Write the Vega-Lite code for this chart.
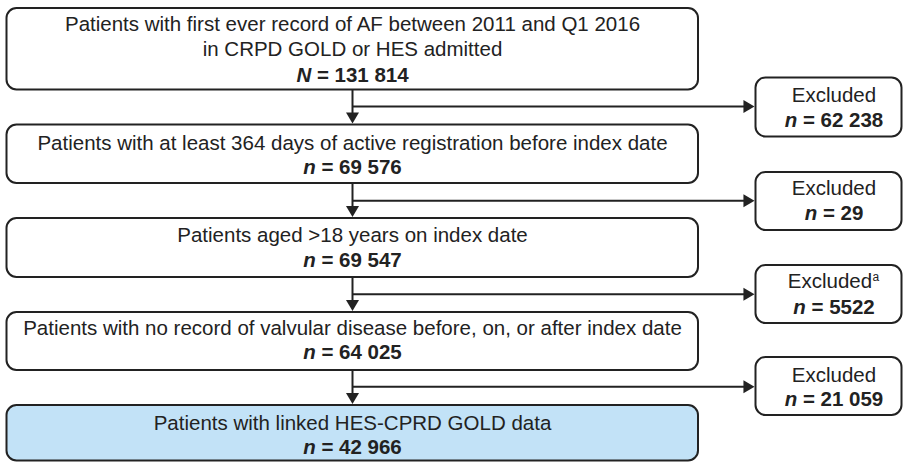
{
  "$schema": "https://vega.github.io/schema/vega-lite/v6.json",
  "width": 904,
  "height": 462,
  "padding": 0,
  "autosize": {"type": "fit", "contains": "padding"},
  "background": "white",
  "config": {"view": {"stroke": null}, "font": "Liberation Sans"},
  "datasets": {
    "boxes": [
      {"x1": 6.5, "x2": 698, "y1": 8, "y2": 89.5, "kind": "step"},
      {"x1": 6.5, "x2": 698, "y1": 124.5, "y2": 183, "kind": "step"},
      {"x1": 6.5, "x2": 698, "y1": 218, "y2": 277, "kind": "step"},
      {"x1": 6.5, "x2": 698, "y1": 312, "y2": 370, "kind": "step"},
      {"x1": 6.5, "x2": 698, "y1": 405, "y2": 460.5, "kind": "final"},
      {"x1": 755.5, "x2": 901.5, "y1": 77.5, "y2": 136.5, "kind": "excluded"},
      {"x1": 755.5, "x2": 901.5, "y1": 172, "y2": 230, "kind": "excluded"},
      {"x1": 755.5, "x2": 901.5, "y1": 265, "y2": 323, "kind": "excluded"},
      {"x1": 755.5, "x2": 901.5, "y1": 357, "y2": 415, "kind": "excluded"}
    ],
    "links": [
      {"x1": 352.5, "y1": 89.5, "x2": 352.5, "y2": 120},
      {"x1": 352.5, "y1": 106.5, "x2": 750, "y2": 106.5},
      {"x1": 352.5, "y1": 183, "x2": 352.5, "y2": 214},
      {"x1": 352.5, "y1": 200.7, "x2": 750, "y2": 200.7},
      {"x1": 352.5, "y1": 277, "x2": 352.5, "y2": 308},
      {"x1": 352.5, "y1": 294.3, "x2": 750, "y2": 294.3},
      {"x1": 352.5, "y1": 370, "x2": 352.5, "y2": 401},
      {"x1": 352.5, "y1": 386.7, "x2": 750, "y2": 386.7}
    ],
    "downHeads": [
      {"x": 352.5, "y": 123.5},
      {"x": 352.5, "y": 217},
      {"x": 352.5, "y": 311},
      {"x": 352.5, "y": 404}
    ],
    "rightHeads": [
      {"x": 754.5, "y": 106.5},
      {"x": 754.5, "y": 200.7},
      {"x": 754.5, "y": 294.3},
      {"x": 754.5, "y": 386.7}
    ],
    "labels": [
      {"x": 352.5, "y": 30.7, "text": "Patients with first ever record of AF between 2011 and Q1 2016"},
      {"x": 352.5, "y": 56, "text": "in CRPD GOLD or HES admitted"},
      {"x": 352.5, "y": 150, "text": "Patients with at least 364 days of active registration before index date"},
      {"x": 352.5, "y": 241.7, "text": "Patients aged >18 years on index date"},
      {"x": 352.5, "y": 335, "text": "Patients with no record of valvular disease before, on, or after index date"},
      {"x": 352.5, "y": 430, "text": "Patients with linked HES-CPRD GOLD data"},
      {"x": 834, "y": 101.7, "text": "Excluded"},
      {"x": 834, "y": 195, "text": "Excluded"},
      {"x": 830, "y": 288.3, "text": "Excluded"},
      {"x": 834, "y": 381.7, "text": "Excluded"}
    ],
    "notes": [
      {"x": 872.5, "y": 281, "text": "a"}
    ],
    "counts": [
      {"x": 311.2, "y": 81.5, "sym": "N", "value": "= 131 814"},
      {"x": 315.7, "y": 173.5, "sym": "n", "value": "= 69 576"},
      {"x": 315.7, "y": 266.7, "sym": "n", "value": "= 69 547"},
      {"x": 315.7, "y": 359.3, "sym": "n", "value": "= 64 025"},
      {"x": 315.7, "y": 453.5, "sym": "n", "value": "= 42 966"},
      {"x": 797.2, "y": 126.7, "sym": "n", "value": "= 62 238"},
      {"x": 817.2, "y": 220, "sym": "n", "value": "= 29"},
      {"x": 805.8, "y": 314, "sym": "n", "value": "= 5522"},
      {"x": 797.2, "y": 406, "sym": "n", "value": "= 21 059"}
    ]
  },
  "layer": [
    {
      "data": {"name": "boxes"},
      "mark": {"type": "rect", "cornerRadius": 10, "stroke": "#222222", "strokeWidth": 2},
      "encoding": {
        "x": {"field": "x1", "type": "quantitative", "scale": {"domain": [0, 904], "nice": false, "zero": false}, "axis": null},
        "x2": {"field": "x2"},
        "y": {"field": "y1", "type": "quantitative", "scale": {"domain": [0, 462], "nice": false, "zero": false, "reverse": true}, "axis": null},
        "y2": {"field": "y2"},
        "fill": {"field": "kind", "type": "nominal", "scale": {"domain": ["step", "final", "excluded"], "range": ["#ffffff", "#c2e2f7", "#ffffff"]}, "legend": null}
      }
    },
    {
      "data": {"name": "links"},
      "mark": {"type": "rule", "color": "#222222", "strokeWidth": 2},
      "encoding": {
        "x": {"field": "x1", "type": "quantitative"},
        "x2": {"field": "x2"},
        "y": {"field": "y1", "type": "quantitative"},
        "y2": {"field": "y2"}
      }
    },
    {
      "data": {"name": "downHeads"},
      "mark": {"type": "point", "filled": true, "color": "#222222", "opacity": 1, "size": 169, "shape": "M-1,-1.7L1,-1.7L0,0Z"},
      "encoding": {
        "x": {"field": "x", "type": "quantitative"},
        "y": {"field": "y", "type": "quantitative"}
      }
    },
    {
      "data": {"name": "rightHeads"},
      "mark": {"type": "point", "filled": true, "color": "#222222", "opacity": 1, "size": 169, "shape": "M-1.7,-1L-1.7,1L0,0Z"},
      "encoding": {
        "x": {"field": "x", "type": "quantitative"},
        "y": {"field": "y", "type": "quantitative"}
      }
    },
    {
      "data": {"name": "labels"},
      "mark": {"type": "text", "align": "center", "baseline": "alphabetic", "fontSize": 20.5, "color": "#222222", "font": "Liberation Sans"},
      "encoding": {
        "x": {"field": "x", "type": "quantitative"},
        "y": {"field": "y", "type": "quantitative"},
        "text": {"field": "text"}
      }
    },
    {
      "data": {"name": "notes"},
      "mark": {"type": "text", "align": "left", "baseline": "alphabetic", "fontSize": 12, "color": "#222222", "font": "Liberation Sans"},
      "encoding": {
        "x": {"field": "x", "type": "quantitative"},
        "y": {"field": "y", "type": "quantitative"},
        "text": {"field": "text"}
      }
    },
    {
      "data": {"name": "counts"},
      "mark": {"type": "text", "align": "right", "baseline": "alphabetic", "fontSize": 20.5, "fontWeight": "bold", "fontStyle": "italic", "color": "#222222", "font": "Liberation Sans"},
      "encoding": {
        "x": {"field": "x", "type": "quantitative"},
        "y": {"field": "y", "type": "quantitative"},
        "text": {"field": "sym"}
      }
    },
    {
      "data": {"name": "counts"},
      "mark": {"type": "text", "align": "left", "baseline": "alphabetic", "dx": 5.7, "fontSize": 20.5, "fontWeight": "bold", "color": "#222222", "font": "Liberation Sans"},
      "encoding": {
        "x": {"field": "x", "type": "quantitative"},
        "y": {"field": "y", "type": "quantitative"},
        "text": {"field": "value"}
      }
    }
  ]
}
